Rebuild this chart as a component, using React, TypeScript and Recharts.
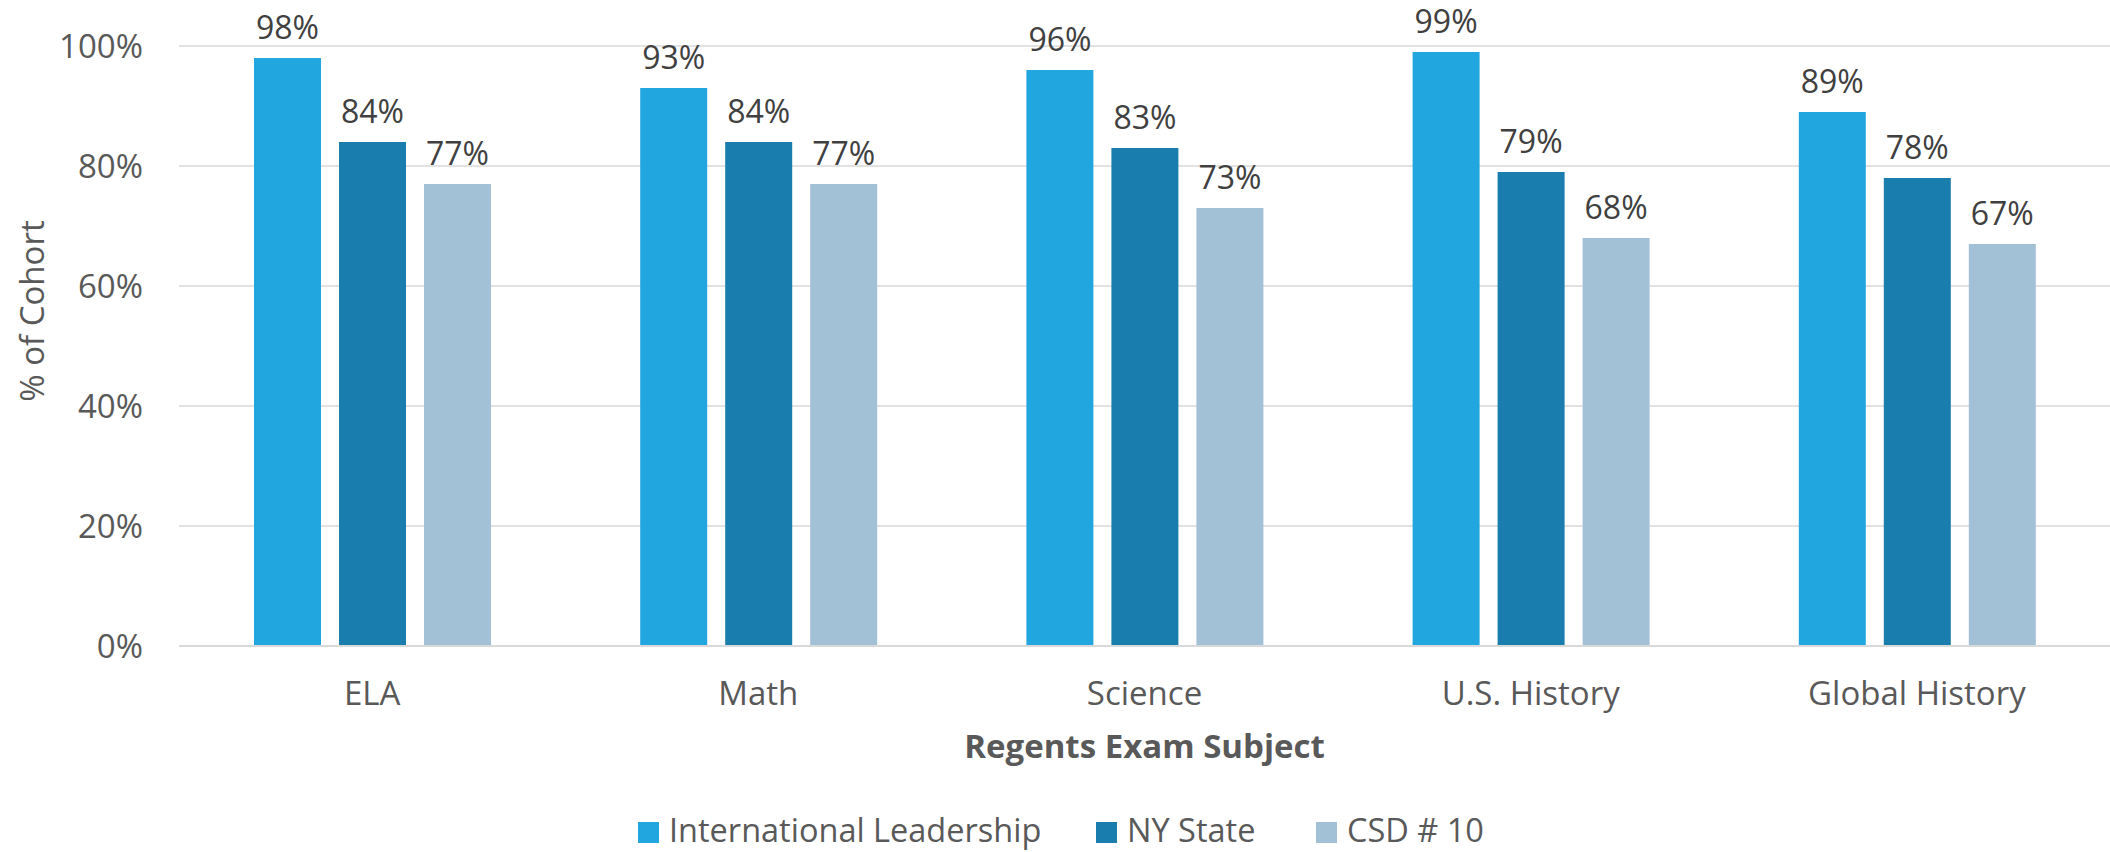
import React from 'react';
import { BarChart, Bar, XAxis, YAxis, CartesianGrid, Legend, LabelList, Label } from 'recharts';

const categories = ['ELA', 'Math', 'Science', 'U.S. History', 'Global History'];
const internationalLeadership = [98, 93, 96, 99, 89];
const nyState = [84, 84, 83, 79, 78];
const csd10 = [77, 77, 73, 68, 67];
const yTicks = [0, 20, 40, 60, 80, 100];

const seriesNames = ['International Leadership', 'NY State', 'CSD # 10'];
const seriesKeys = ['il', 'ny', 'csd'];
const colors = ['#22A6E0', '#197DAD', '#A2C0D6'];

const data = categories.map((c, i) => ({
  name: c,
  il: internationalLeadership[i],
  ny: nyState[i],
  csd: csd10[i],
}));

const FONT = '"Open Sans", sans-serif';
const TEXT = '#595959';
const LABEL = '#404040';

const XTick = (props: any) => {
  const { x, y, payload } = props;
  return (
    <text x={x} y={y} dy={59} textAnchor="middle" fill={TEXT} fontFamily={FONT} fontSize={33}>
      {payload.value}
    </text>
  );
};

const YTick = (props: any) => {
  const { x, y, payload } = props;
  return (
    <text x={x} y={y} dy={12} textAnchor="end" fill={TEXT} fontFamily={FONT} fontSize={33}>
      {`${payload.value}%`}
    </text>
  );
};

const YTitle = (props: any) => {
  const vb = props.viewBox || {};
  const cx = 31;
  const cy = (vb.y ?? 46) + (vb.height ?? 600) / 2 - 35;
  return (
    <text
      x={cx}
      y={cy}
      transform={`rotate(-90 ${cx} ${cy})`}
      textAnchor="middle"
      dominantBaseline="central"
      fill={TEXT}
      fontFamily={FONT}
      fontSize={33}
    >
      % of Cohort
    </text>
  );
};

const XTitle = (props: any) => {
  const vb = props.viewBox || {};
  const cx = (vb.x ?? 179) + (vb.width ?? 1931) / 2;
  const cy = (vb.y ?? 646) + 112;
  return (
    <text x={cx} y={cy} textAnchor="middle" fill={TEXT} fontFamily={FONT} fontSize={33} fontWeight="bold">
      Regents Exam Subject
    </text>
  );
};

const legendX = [638, 1096, 1316];

const LegendContent = () => (
  <svg width={2110} height={50} style={{ display: 'block' }}>
    {seriesNames.map((n, i) => (
      <g key={n}>
        <rect x={legendX[i]} y={20} width={21} height={21} fill={colors[i]} />
        <text x={legendX[i] + 31} y={40} fill={TEXT} fontFamily={FONT} fontSize={32.5}>
          {n}
        </text>
      </g>
    ))}
  </svg>
);

const renderLabel = (props: any) => {
  const { x, y, width, value } = props;
  return (
    <text x={x + width / 2} y={y - 19} textAnchor="middle" fill={LABEL} fontFamily={FONT} fontSize={32}>
      {`${value}%`}
    </text>
  );
};

export default function App() {
  return (
    <div style={{ position: 'absolute', left: 0, top: 0, width: 2110, height: 852, background: '#fff' }}>
      <BarChart
        width={2110}
        height={852}
        data={data}
        margin={{ top: 46, right: 0, bottom: 0, left: 0 }}
        barSize={67}
        barGap={18}
      >
        <CartesianGrid vertical={false} stroke="#D9D9D9" strokeWidth={1.5} />
        <XAxis
          dataKey="name"
          height={156}
          tickLine={false}
          tickSize={0}
          tickMargin={0}
          axisLine={{ stroke: '#D9D9D9', strokeWidth: 2 }}
          tick={<XTick />}
          interval={0}
        >
          <Label content={<XTitle />} />
        </XAxis>
        <YAxis
          width={179}
          domain={[0, 100]}
          ticks={yTicks}
          tickLine={false}
          axisLine={false}
          tickSize={0}
          tickMargin={36}
          tick={<YTick />}
        >
          <Label content={<YTitle />} />
        </YAxis>
        <Legend verticalAlign="bottom" height={50} content={<LegendContent />} wrapperStyle={{ left: 0, width: 2110 }} />
        {seriesKeys.map((k, i) => (
          <Bar key={k} dataKey={k} name={seriesNames[i]} fill={colors[i]} isAnimationActive={false}>
            <LabelList dataKey={k} content={renderLabel} />
          </Bar>
        ))}
      </BarChart>
    </div>
  );
}
